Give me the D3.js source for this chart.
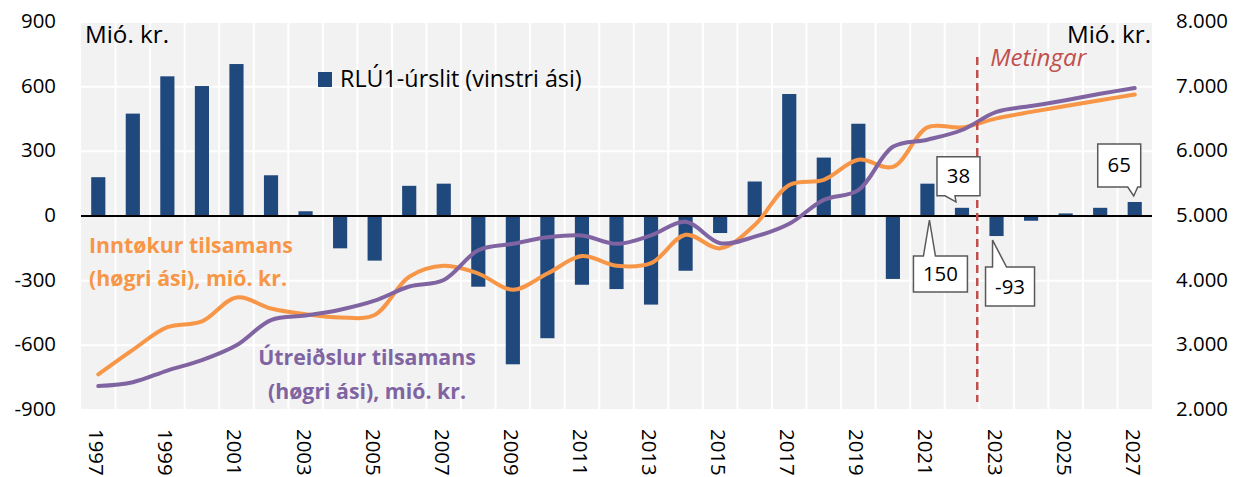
<!DOCTYPE html>
<html>
<head>
<meta charset="utf-8">
<script src="https://cdn.jsdelivr.net/npm/d3@7"></script>
<style>
  body { margin: 0; background: #fff; }
  svg text { font-family: "Open Sans", sans-serif; }
</style>
</head>
<body>
<div id="chart"></div>
<script>
// chart data
var years = d3.range(1997, 2028);
var rlu = [180, 475, 648, 603, 705, 189, 22, -150, -207, 140, 150, -328, -688, -567, -319, -339, -411, -254, -79, 160, 566, 271, 428, -292, 150, 38, -93, -22, 12, 38, 65];
var inntokur = [2550, 2930, 3280, 3370, 3740, 3570, 3480, 3430, 3470, 4060, 4230, 4110, 3860, 4110, 4380, 4230, 4270, 4710, 4500, 4860, 5480, 5560, 5870, 5760, 6370, 6370, 6510, 6610, 6700, 6790, 6880];
var utreidslur = [2370, 2430, 2610, 2770, 3000, 3390, 3460, 3550, 3690, 3910, 4010, 4470, 4570, 4670, 4700, 4570, 4700, 4910, 4580, 4680, 4880, 5250, 5400, 6070, 6180, 6330, 6610, 6700, 6790, 6890, 6980];
var leftTicks = [-900, -600, -300, 0, 300, 600, 900];
var rightTicks = [2000, 3000, 4000, 5000, 6000, 7000, 8000];
var yearLabels = d3.range(1997, 2028, 2);
var callouts = [
    {year: 2021, text: "150"},
    {year: 2022, text: "38"},
    {year: 2023, text: "-93"},
    {year: 2027, text: "65"}
];

var _width = 1234, _height = 477;
var margin = {top: 22, right: 82, bottom: 67, left: 81};
var innerW = _width - margin.left - margin.right;
var innerH = _height - margin.top - margin.bottom;

var barColor = "#1f497d", orange = "#f79646", purple = "#8064a2";

var svg = d3.select("#chart").append("svg")
    .attr("width", _width)
    .attr("height", _height);

// font size that makes a string take a given width (the source used Calibri)
function fitSize(str, target, weight, style) {
    var t = svg.append("text")
        .style("font-size", "20px")
        .style("font-weight", weight || "normal")
        .style("font-style", style || "normal")
        .text(str);
    var len = t.node().getComputedTextLength();
    t.remove();
    return (20 * target / len).toFixed(1) + "px";
}

var tickSize = fitSize("900", 35);
var unitSize = fitSize("Mió. kr.", 84);
var legendSize = fitSize("RLÚ1-úrslit (vinstri ási)", 242);
var metSize = fitSize("Metingar", 96, "normal", "italic");
var labSize = fitSize("Inntøkur tilsamans", 204, "bold");

var g = svg.append("g")
    .attr("transform", "translate(" + margin.left + "," + margin.top + ")");

var x = d3.scaleBand().domain(years).range([0, innerW]).padding(0);
var yL = d3.scaleLinear().domain([-900, 900]).range([innerH, 0]);
var yR = d3.scaleLinear().domain([2000, 8000]).range([innerH, 0]);

// background + grid
g.append("rect")
    .attr("width", innerW)
    .attr("height", innerH)
    .attr("fill", "#f2f2f2");

g.selectAll(".hgrid").data(leftTicks).enter().append("line")
    .attr("x1", 0).attr("x2", innerW)
    .attr("y1", function(d) { return yL(d); })
    .attr("y2", function(d) { return yL(d); })
    .attr("stroke", "#fff").attr("stroke-width", 2);

g.selectAll(".vgrid").data(years.slice(1)).enter().append("line")
    .attr("x1", function(d) { return x(d); })
    .attr("x2", function(d) { return x(d); })
    .attr("y1", 0).attr("y2", innerH)
    .attr("stroke", "#fff").attr("stroke-width", 2);

// bars
var barW = x.bandwidth() * 0.41;
g.selectAll(".bar").data(rlu).enter().append("rect")
    .attr("x", function(d, i) { return x(years[i]) + x.bandwidth() / 2 - barW / 2; })
    .attr("y", function(d) { return yL(Math.max(0, d)); })
    .attr("width", barW)
    .attr("height", function(d) { return Math.abs(yL(d) - yL(0)); })
    .attr("fill", barColor);

// zero line
g.append("line")
    .attr("x1", 0).attr("x2", innerW)
    .attr("y1", yL(0)).attr("y2", yL(0))
    .attr("stroke", "#000").attr("stroke-width", 2);

// lines
var line = d3.line()
    .x(function(d, i) { return x(years[i]) + x.bandwidth() / 2; })
    .y(function(d) { return yR(d); })
    .curve(d3.curveCatmullRom.alpha(0.5));

g.append("path").datum(inntokur)
    .attr("d", line)
    .attr("fill", "none")
    .attr("stroke", orange)
    .attr("stroke-width", 4)
    .attr("stroke-linecap", "round");

g.append("path").datum(utreidslur)
    .attr("d", line)
    .attr("fill", "none")
    .attr("stroke", purple)
    .attr("stroke-width", 4)
    .attr("stroke-linecap", "round");

// forecast divider
var splitX = x(2023) - 2;
g.append("line")
    .attr("x1", splitX).attr("x2", splitX)
    .attr("y1", 35).attr("y2", innerH - 8)
    .attr("stroke", "#c0504d")
    .attr("stroke-width", 2.5)
    .attr("stroke-dasharray", "8,5");

g.append("text")
    .attr("x", splitX + 13).attr("y", 44)
    .attr("fill", "#c0504d")
    .style("font-size", metSize)
    .style("font-style", "italic")
    .text("Metingar");

// axes
var leftAxis = g.append("g");
leftAxis.selectAll("text").data(leftTicks).enter().append("text")
    .attr("x", -25)
    .attr("y", function(d) { return yL(d) + 6; })
    .attr("text-anchor", "end")
    .style("font-size", tickSize)
    .text(function(d) { return d; });

var fmt = function(d) { return d3.format(",")(d).replace(/,/g, "."); };
var rightAxis = g.append("g");
rightAxis.selectAll("text").data(rightTicks).enter().append("text")
    .attr("x", innerW + 24)
    .attr("y", function(d) { return yR(d) + 6; })
    .style("font-size", tickSize)
    .text(fmt);

g.selectAll(".xlab").data(yearLabels).enter().append("text")
    .attr("transform", function(d) {
        return "translate(" + (x(d) + x.bandwidth() / 2 - 9) + "," + (innerH + 19) + ") rotate(90)";
    })
    .style("font-size", tickSize)
    .text(function(d) { return d; });

// unit labels
g.append("text").attr("x", 4).attr("y", 21)
    .style("font-size", unitSize).text("Mió. kr.");
g.append("text").attr("x", innerW - 1).attr("y", 21)
    .attr("text-anchor", "end")
    .style("font-size", unitSize).text("Mió. kr.");

// legend
g.append("rect").attr("x", 237).attr("y", 50).attr("width", 14).attr("height", 15)
    .attr("fill", barColor);
g.append("text").attr("x", 259).attr("y", 65)
    .style("font-size", legendSize)
    .text("RLÚ1-úrslit (vinstri ási)");

// series labels
var lab1 = g.append("text").attr("fill", orange)
    .style("font-size", labSize).style("font-weight", "bold");
lab1.append("tspan").attr("x", 8).attr("y", 231).text("Inntøkur tilsamans");
lab1.append("tspan").attr("x", 8).attr("y", 264).text("(høgri ási), mió. kr.");

var lab2 = g.append("text").attr("fill", purple)
    .attr("text-anchor", "middle")
    .style("font-size", labSize).style("font-weight", "bold");
lab2.append("tspan").attr("x", 286).attr("y", 343).text("Útreiðslur tilsamans");
lab2.append("tspan").attr("x", 286).attr("y", 377).text("(høgri ási), mió. kr.");

// callouts for selected bars
callouts.forEach(function(c) {
    var i = years.indexOf(c.year);
    var v = rlu[i];
    var cx = x(c.year) + x.bandwidth() / 2;
    var box, tip, base;
    if (c.year === 2021) {
        tip = [cx + 2, yL(0) + 4];
        box = {x: cx - 14, y: yL(0) + 40, w: 54, h: 36};
        base = [box.x + 10, box.x + 22, box.y];
    } else if (c.year === 2022) {
        tip = [cx - 6, yL(v) - 6];
        box = {x: cx - 25, y: yL(v) - 51, w: 43, h: 39};
        base = [box.x + 8, box.x + 18, box.y + box.h];
    } else if (c.year === 2023) {
        tip = [cx - 4, yL(v) + 4];
        box = {x: cx - 11, y: yL(v) + 31, w: 49, h: 39};
        base = [box.x + 7, box.x + 21, box.y];
    } else {
        tip = [cx - 1, yL(v) - 6];
        box = {x: cx - 37, y: yL(v) - 58, w: 43, h: 43};
        base = [box.x + 30, box.x + 40, box.y + box.h];
    }
    var top = base[2] === box.y;
    var pts;
    if (top) {
        pts = [[box.x, box.y], [base[0], box.y], tip, [base[1], box.y],
               [box.x + box.w, box.y], [box.x + box.w, box.y + box.h], [box.x, box.y + box.h]];
    } else {
        pts = [[box.x, box.y], [box.x + box.w, box.y], [box.x + box.w, box.y + box.h],
               [base[1], box.y + box.h], tip, [base[0], box.y + box.h], [box.x, box.y + box.h]];
    }
    g.append("path")
        .attr("d", "M" + pts.join("L") + "Z")
        .attr("fill", "#fff")
        .attr("stroke", "#595959")
        .attr("stroke-width", 1.5);
    g.append("text")
        .attr("x", box.x + box.w / 2)
        .attr("y", box.y + box.h / 2 + 7)
        .attr("text-anchor", "middle")
        .style("font-size", tickSize)
        .text(c.text);
});
</script>
</body>
</html>
